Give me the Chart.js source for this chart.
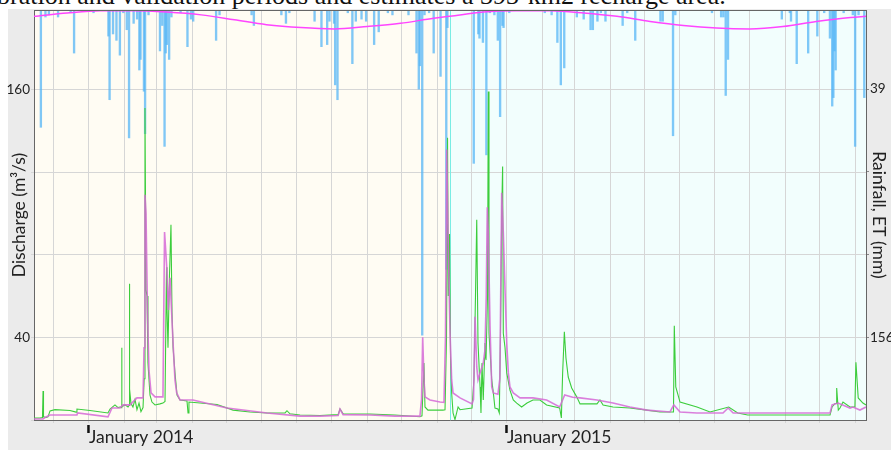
<!DOCTYPE html>
<html><head><meta charset="utf-8">
<script src="https://cdn.jsdelivr.net/npm/chart.js@4.4.1/dist/chart.umd.min.js"></script>
<style>
html,body{margin:0;padding:0;background:#fff;width:891px;height:450px;overflow:hidden;}
#cap{position:absolute;left:-3px;top:-17px;font:26px/26px "Liberation Serif","DejaVu Serif",serif;color:#111;white-space:nowrap;}
#bg{position:absolute;left:8px;top:9px;right:0;bottom:0;background:#ebebeb;}
#wrap{position:absolute;left:0;top:0;width:891px;height:450px;}
</style></head><body>
<div id="cap">bration and validation periods and estimates a 393-km2 recharge area.</div>
<div id="bg"></div>
<div id="wrap"><canvas id="c" width="891" height="450"></canvas></div>
<script>
// Day offsets counted from 14 Nov 2013
const startDate = '2013-11-14';
const periodSplitDay = 363.3; // calibration | validation

const monthTickDays = [17,48,79,107,138,168,199,229,260,291,321,352,382,413,444,472,503,533,564,594,625,656,686,717];
const monthTickLabels = ['','January 2014','','','','','','','','','','','','January 2015','','','','','','','','','',''];

const yTickValues = [0,40,80,120,160];
const yTickLabels = ['','40','','','160'];
const y2TickValues = [39,78,117,156];
const y2TickLabels = ['39','','','156'];

// Observed discharge (m3/s)
const obsDay = [0,5.2,7.4,7.9,8.3,10.5,12.2,14.0,18.3,31.4,36.7,37.5,48.9,64.6,66.4,70.7,73.4,75.1,76.4,76.6,76.8,79.5,82.1,83.0,83.2,83.7,84.7,86.4,88.2,89.9,91.7,93.4,95.2,96.2,96.9,97.8,98.7,99.5,101.3,103.0,105.7,110.0,112.6,114.4,115.7,116.1,117.0,118.3,119.6,120.5,121.4,123.1,124.9,127.5,133.6,134.5,135.3,145.0,159.8,173.8,188.6,203.5,219.2,220.9,223.5,232.3,249.7,265.6,267.2,269.9,293.4,315.2,337.0,338.8,340.5,341.4,344.0,357.1,358.9,360.2,361.1,361.8,362.8,363.7,364.7,365.9,367.6,370.3,372.0,382.5,384.2,385.5,386.6,387.7,389.5,390.3,391.2,392.3,393.4,393.8,394.7,396.0,396.7,397.3,399.7,401.1,402.5,405.1,406.3,407.3,408.4,409.2,409.8,411.3,412.8,415.6,418.5,421.5,425.8,430.5,435.7,441.8,447.6,459.0,460.5,461.6,463.1,464.5,466.5,469.5,473.9,476.8,491.6,494.2,496.9,505.6,520.3,535.3,546.6,558.4,559.1,560.4,564.1,578.9,590.3,606.6,614.5,623.2,695.1,696.9,699.5,700.6,700.9,702.3,703.8,706.4,712.5,716.8,717.7,719.7,723.8,726.5];
const obsQ = [1,1,1.2,14,1.5,1.2,1.5,4.4,5,4.6,3.8,5.3,4.6,3.4,5.3,7.3,6,6.3,6,35,6.5,7.3,6.3,7,66,15,8,6.3,10,5,8.2,4,6,20,151,63,60,27.6,12,8.7,7.3,7.8,8.2,9,74,55,35,70,94.5,52,35.4,22.8,12.1,9.7,9.2,3.4,8.7,8.2,7.5,4.8,3.9,3.4,3.4,4.5,3,2.4,2.2,2.6,5.3,3,2.9,2.4,1.6,2,27.6,6.3,4.8,4.8,5,40,136.7,60,90,30,13.1,3.4,0.2,6.3,5,5.8,20,60,97,37.3,16,3.4,27.6,9.7,30,37.3,29,60,159,42,19.4,13.1,5.8,5.3,3.4,40,100,122.7,42,35,22.8,14.5,9.7,8.2,6.3,8.2,9.7,9.7,7.3,5.8,1,22.8,42.7,30,20.8,15.5,11.2,7.8,7.8,9.7,7.3,6.3,5.8,4.8,3.9,3.9,45.6,16,8.7,6.3,3.9,6.3,3.4,2.4,2.4,6.3,8,8,15.5,4.8,5.8,8.7,6.3,6.3,28,10.7,8.2,7.3];

// Simulated discharge (m3/s)
const simDay = [0,7.9,10.5,14.0,37.5,38.0,64.6,68.1,75.1,77.7,83.8,89.9,95.2,96.1,96.9,97.8,99.1,100.4,102.2,105.7,112.6,114.0,115.9,117.3,118.8,120.2,121.6,123.1,124.6,127.5,138.8,168.5,203.5,232.3,249.7,265.6,267.2,269.9,293.4,315.2,337.0,338.4,339.4,340.5,341.4,345.8,354.5,358.0,359.3,360.4,361.5,363.3,364.7,365.9,372.0,382.5,383.8,385.1,386.6,387.7,389.5,392.3,393.8,394.9,395.8,396.7,398.2,399.7,401.1,405.1,406.8,408.4,409.8,411.3,412.8,414.2,415.6,418.5,424.4,435.7,447.6,459.0,463.4,470.4,476.8,491.6,505.6,520.3,535.3,555.3,558.7,564.1,578.9,601.6,606.1,610.5,695.1,696.9,702.1,712.5,715.1,721.2,726.5];
const simQ = [0.5,0.5,1.5,2.4,2.4,3.4,1.5,5.8,5.8,7.3,7.3,10.7,10.7,35,109,100,52,24,13.1,11.2,11.2,91,74,53.3,68.8,51.9,35.4,19.4,13.1,9.7,9.7,5.8,3.4,1.9,1.9,2.2,5.3,2.6,2.4,1.9,1.9,10,40,20,11.2,9.7,8.7,8.5,40,131,91,42,19.4,13.1,10.7,7.8,10,50,25.7,19.4,22.8,27.6,34,60,103,90.7,45,16,13.1,12.5,20,110,90.7,63,37.3,22.8,16,13.1,10.7,10.7,9.7,6.3,12.1,11,10.7,9.7,8.2,6.3,4.8,3.9,7.3,3.9,3.4,3.4,5.8,3.4,3.4,7.3,8.2,5.8,6.3,4.8,6.3];

// Daily rainfall (mm)
const rainDay = [3,6,10,13,18,21,25,32,35,40,45,52,58,60,65,66,69,72,75,78,81,83,87,90,92,93,96,97,100,104,110,112,114,115,116,118,120,123,128,134,137,139,145,150,159,162,170,178,185,190,192,198,205,216,220,223,230,238,245,251,256,258,262,263,265,270,274,278,281,286,290,294,297,301,305,309,313,318,327,334,336,337,339,341,345,349,352,355,360,361,367,372,378,384,388,389,392,395,398,402,405,407,409,410,415,420,425,432,440,446,452,457,460,463,468,474,480,486,488,492,495,499,505,514,518,525,533,540,547,549,558,560,570,578,585,592,600,602,604,606,612,620,630,640,653,660,661,666,670,676,684,690,695,697,698,699,700,707,710,715,717,720,722,725];
const rainMm = [2,57,5,4,2,5,1.5,3,22,2,2,3,2,2,14,44,13,16,23,3,11,62,8,6,30,25,40,60,4,2,21,9,66,22,18,25,5,2,3,19,6,7,2,1.5,16,4,2,2,2,4,9,2,1.5,4,8,3,2,2,7,19,18,7,8,37,44,2,3,27,7,6,7,2,18,12,2,3,4,2,4,22,39,28,155,4,3,22,2,33,124,10,2,2,2,74,13,15,17,70,3,4,16,52,9,10,3,2,2,2,2,3,4,17,37,29,2,5,6,11,11,7,3,7,2,9,3,16,2,2,7,7,61,4,2,2,2,3,5,5,42,25,2,2,2,2,6,3,7,27,2,22,14,3,15,47,43,21,30,3,2,4,66,4,2,43];

// Evapotranspiration (mm)
const etDay = [0,29,58,87,116,146,175,203,233,262,291,320,349,363,392,421,451,480,509,538,567,596,625,654,683,713,726.5];
const etMm = [4.7,3.1,2.1,2.1,2.7,4.0,6.3,8.6,10,10.6,9.5,8,5.6,4.7,2.7,2.1,2.1,3.1,4.7,7.1,9,10.2,10.6,9.5,7.1,5.2,4.7];

const toXY = (xs, ys) => xs.map((x, i) => ({x: x, y: ys[i]}));

const bgPlugin = {
  id: 'bgPeriods',
  beforeDraw(chart) {
    const {ctx, chartArea: a, scales: {x}} = chart;
    const xb = x.getPixelForValue(periodSplitDay);
    ctx.save();
    ctx.fillStyle = '#fffcf3';
    ctx.fillRect(a.left, a.top, xb - a.left, a.bottom - a.top);
    ctx.fillStyle = '#f2fefd';
    ctx.fillRect(xb, a.top, a.right - xb, a.bottom - a.top);
    ctx.restore();
  },
  beforeDatasetsDraw(chart) {
    const {ctx, chartArea: a, scales: {x}} = chart;
    const xb = Math.round(x.getPixelForValue(periodSplitDay)) + 0.5;
    ctx.save();
    ctx.strokeStyle = '#79ece4';
    ctx.lineWidth = 1;
    ctx.beginPath(); ctx.moveTo(xb, a.top); ctx.lineTo(xb, a.bottom); ctx.stroke();
    ctx.restore();
  },
  afterDraw(chart) {
    const {ctx, chartArea: a, scales: {x}} = chart;
    ctx.save();
    ctx.strokeStyle = '#666';
    ctx.lineWidth = 1;
    ctx.beginPath(); ctx.moveTo(a.left, a.top + 0.5); ctx.lineTo(a.right, a.top + 0.5); ctx.stroke();
    ctx.strokeStyle = '#111';
    ctx.lineWidth = 2.5;
    monthTickDays.forEach((d, i) => {
      if (monthTickLabels[i]) {
        const px = x.getPixelForValue(d) - 0.5;
        ctx.beginPath(); ctx.moveTo(px, a.bottom + 5); ctx.lineTo(px, a.bottom + 13); ctx.stroke();
      }
    });
    ctx.restore();
  }
};

new Chart(document.getElementById('c'), {
  type: 'line',
  data: {
    datasets: [
      {type: 'line', label: 'ET', data: toXY(etDay, etMm), yAxisID: 'y2', borderColor: '#ff45ff', borderWidth: 1.5, pointRadius: 0, cubicInterpolationMode: 'monotone', order: 0},
      {type: 'line', label: 'Simulated discharge', data: toXY(simDay, simQ), yAxisID: 'y', borderColor: 'rgba(214,104,214,0.85)', borderWidth: 1.6, pointRadius: 0, tension: 0, order: 1},
      {type: 'line', label: 'Observed discharge', data: toXY(obsDay, obsQ), yAxisID: 'y', borderColor: 'rgb(60,205,60)', borderWidth: 1.1, pointRadius: 0, tension: 0, order: 2},
      {type: 'bar', label: 'Rainfall', data: toXY(rainDay, rainMm), yAxisID: 'y2', backgroundColor: 'rgba(85,182,245,0.75)', barThickness: 1.7, order: 3}
    ]
  },
  options: {
    responsive: false, animation: false, devicePixelRatio: 1,
    layout: {padding: {top: 10, left: 0, right: 0, bottom: 0}},
    plugins: {legend: {display: false}, tooltip: {enabled: false}},
    scales: {
      x: {
        type: 'linear', min: 0, max: 726.5, offset: false,
        afterBuildTicks: s => { s.ticks = monthTickDays.map(v => ({value: v})); },
        afterFit: s => { s.height = 30; },
        ticks: {autoSkip: false, maxRotation: 0, align: 'start', padding: 4, color: '#222',
          font: {family: 'Lato', size: 17.5},
          callback: v => { const i = monthTickDays.indexOf(v); return i >= 0 ? monthTickLabels[i] : ''; }},
        grid: {color: '#d6d6d6', tickLength: 3, offset: false},
        border: {color: '#666'}
      },
      y: {
        position: 'left', min: 0, max: 198.5,
        afterBuildTicks: s => { s.ticks = yTickValues.map(v => ({value: v})); },
        afterFit: s => { s.width = 34; },
        ticks: {autoSkip: false, padding: 1, color: '#222', font: {family: 'Lato', size: 13.5},
          callback: v => { const i = yTickValues.indexOf(v); return i >= 0 ? yTickLabels[i] : ''; }},
        grid: {color: '#d6d6d6', tickLength: 3},
        border: {color: '#666'},
        title: {display: true, text: 'Discharge (m³/s)', color: '#222', font: {family: 'Lato', size: 17.5}, padding: {top: 8.5, bottom: 0}}
      },
      y2: {
        position: 'right', reverse: true, min: 1.7, max: 195,
        afterBuildTicks: s => { s.ticks = y2TickValues.map(v => ({value: v})); },
        afterFit: s => { s.width = 25; },
        ticks: {autoSkip: false, padding: 1, color: '#222', font: {family: 'Lato', size: 13.5},
          callback: v => { const i = y2TickValues.indexOf(v); return i >= 0 ? y2TickLabels[i] : ''; }},
        grid: {drawOnChartArea: false, color: '#888', tickLength: 3},
        border: {color: '#666'},
        title: {display: true, text: 'Rainfall, ET (mm)', color: '#222', font: {family: 'Lato', size: 17.5}, padding: {top: 1.5, bottom: 0}}
      }
    }
  },
  plugins: [bgPlugin]
});
</script>
</body></html>
